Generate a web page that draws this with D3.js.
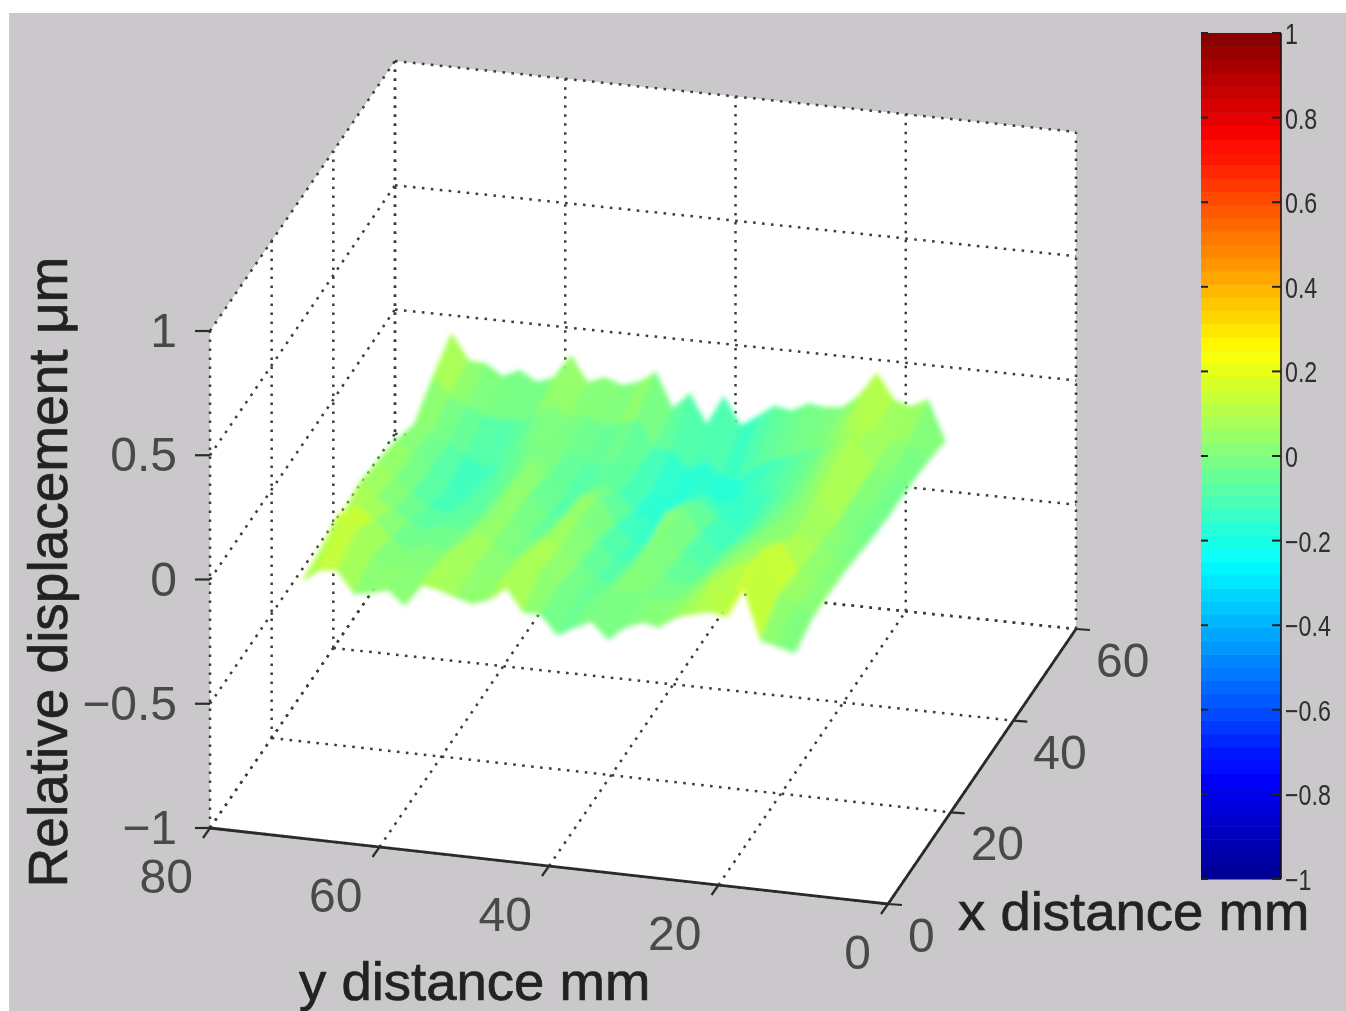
<!DOCTYPE html>
<html>
  <head>
    <title>Relative displacement surface</title>
    <meta charset="utf-8">
    <script src="https://d3js.org/d3.v7.min.js"></script>
    <style>
      html, body { margin: 0; padding: 0; background: #fff; }
      svg { display: block; }
      text { font-family: "Liberation Sans", Arial, sans-serif; }
    </style>
  </head>
<body>
  <script type="text/javascript">
    // tick labels
    var xTicks = [0, 20, 40, 60],
        yTicks = [80, 60, 40, 20, 0],
        zTicks = [-1, -0.5, 0, 0.5, 1],
        colorTicks = [-1, -0.8, -0.6, -0.4, -0.2, 0, 0.2, 0.4, 0.6, 0.8, 1];

    // measured grid, mm
    var xDistance = [0, 6, 12, 18, 24, 30, 36, 42, 48];
    var yDistance = [69, 67, 65, 63, 61, 59, 57, 55, 53, 51, 49, 47, 45, 43, 41,
                     39, 37, 35, 33, 31, 29, 27, 25, 23, 21, 19, 17, 15, 13, 11];

    // relative displacement, um, one list per x distance
    var zAtX0  = [.04, .09, .097, .01, .02, .04, -.015, .075, .064, .04, .023, .047, .103, .01, .01,
                  -.065, -.027, .005, -.06, -.003, .025, .013, .06, .08, .097, .085, .205, .005, -.013, -.03];
    var zAtX6  = [.06, .2, .14, .05, .01, .04, .01, .06, .13, .05, .02, .05, .13, .08, .01,
                  -.03, -.02, 0, .02, 0, 0, .01, .04, .1, .13, .14, .25, .08, .04, .01];
    var zAtX12 = [.065, .13, .08, .01, -.03, 0, -.02, .02, .07, .03, -.01, .01, .08, .05, -.01,
                  -.06, -.07, -.01, .03, -.02, -.05, -.03, .02, .05, .08, .09, .17, .06, .03, .01];
    var zAtX18 = [.097, .05, .01, -.03, -.06, -.03, -.05, -.01, .04, .02, -.04, -.03, .05, .05, -.03,
                  -.1, -.1, -.02, .03, -.04, -.09, -.06, -.01, .02, .04, .03, .09, .04, .01, 0];
    var zAtX24 = [.08, .02, -.03, -.08, -.1, -.07, -.08, -.03, .06, .02, -.07, -.07, .03, .04, -.07,
                  -.13, -.13, 0, .03, -.07, -.13, -.09, -.05, -.01, .02, .02, .12, .02, -.01, -.02];
    var zAtX30 = [.056, .01, -.05, -.12, -.15, -.09, -.06, -.04, .03, -.01, -.09, -.09, -.04, -.06, -.13,
                  -.17, -.16, -.07, -.06, -.11, -.15, -.12, -.07, -.03, .01, .05, .16, .03, -.03, -.03];
    var zAtX36 = [.012, -.02, -.05, -.09, -.13, -.11, -.05, -.01, 0, -.03, -.07, -.07, -.05, -.09, -.15,
                  -.19, -.18, -.14, -.18, -.16, -.13, -.11, -.06, -.03, .03, .07, .13, .03, 0, -.03];
    var zAtX42 = [.093, .02, -.01, -.04, -.05, -.05, -.03, .03, -.01, 0, -.03, -.02, .01, -.1, -.1,
                  -.17, -.13, -.18, -.2, -.13, -.09, -.07, -.04, -.02, .03, .08, .07, .03, .03, -.04];
    var zAtX48 = [.158, .057, .053, .008, .04, 0, .024, .12, .02, .047, .023, .043, .09, -.05, .018,
                  -.1, .02, -.09, -.043, .005, -.007, .029, .02, .028, .085, .18, .08, .06, .095, -.06];
    var zRows = [zAtX0, zAtX6, zAtX12, zAtX18, zAtX24, zAtX30, zAtX36, zAtX42, zAtX48];

    var width = 1346,
        height = 1011;

    var svg = d3.select("body").append("svg")
        .attr("width", width)
        .attr("height", height);

    // jpeg softness of the original
    var defs = svg.append("defs");
    defs.append("filter").attr("id", "soft")
        .attr("x", "-2%").attr("y", "-2%").attr("width", "104%").attr("height", "104%")
      .append("feGaussianBlur").attr("stdDeviation", 0.7);
    defs.append("filter").attr("id", "surfaceBlur")
        .attr("x", "-5%").attr("y", "-5%").attr("width", "110%").attr("height", "110%")
      .append("feGaussianBlur").attr("stdDeviation", 2.4);

    svg.append("rect")
        .attr("x", 9).attr("y", 13)
        .attr("width", width - 9).attr("height", height - 13)
        .attr("fill", "#cbc8cc");

    var chart = svg.append("g").attr("filter", "url(#soft)");

    /*
      Projection: the three data scales give box fractions, the floor
      corners and the box height turn them into pixels
    */
    var u = d3.scaleLinear().domain([80, 0]).range([0, 1]),
        v = d3.scaleLinear().domain([0, 60]).range([0, 1]),
        w = d3.scaleLinear().domain([-1, 1]).range([0, 497]);

    var frontLeft = [210, 828],
        frontRight = [888, 904],
        backLeft = [395, 558],
        backRight = [1076, 629];

    function project(x, y, z) {
      var a = u(y), b = v(x);
      var px = (1 - a) * (1 - b) * frontLeft[0] + a * (1 - b) * frontRight[0] +
               (1 - a) * b * backLeft[0] + a * b * backRight[0];
      var py = (1 - a) * (1 - b) * frontLeft[1] + a * (1 - b) * frontRight[1] +
               (1 - a) * b * backLeft[1] + a * b * backRight[1];
      return [px, py - w(z)];
    }

    // jet colormap
    var jet = d3.scaleLinear()
        .domain([-1, -0.75, -0.25, 0.25, 0.75, 1])
        .range(["#00008f", "#0000ff", "#00ffff", "#ffff00", "#ff0000", "#800000"])
        .clamp(true);

    var line = d3.line();

    /*
      Box walls
    */
    chart.append("path")
        .attr("d", line.curve(d3.curveLinearClosed)([
          project(0, 80, 1), project(60, 80, 1), project(60, 0, 1),
          project(60, 0, -1), project(0, 0, -1), project(0, 80, -1)]))
        .attr("fill", "#fff");

    var gridSegments = [];
    // floor
    yTicks.forEach(function (y) { gridSegments.push([project(0, y, -1), project(60, y, -1)]); });
    xTicks.forEach(function (x) { gridSegments.push([project(x, 80, -1), project(x, 0, -1)]); });
    // back wall
    yTicks.forEach(function (y) { gridSegments.push([project(60, y, -1), project(60, y, 1)]); });
    zTicks.forEach(function (z) { gridSegments.push([project(60, 80, z), project(60, 0, z)]); });
    // left wall
    xTicks.forEach(function (x) { gridSegments.push([project(x, 80, -1), project(x, 80, 1)]); });
    zTicks.forEach(function (z) { gridSegments.push([project(0, 80, z), project(60, 80, z)]); });

    var openLine = d3.line();
    chart.append("g").selectAll("path")
        .data(gridSegments)
      .enter().append("path")
        .attr("d", function (d) { return openLine(d); })
        .attr("fill", "none")
        .attr("stroke", "#3c3c3c")
        .attr("stroke-width", 2.5)
        .attr("stroke-dasharray", "2.6 6.4");

    /*
      Surface, far rows first so near rows cover them
    */
    var cells = [];
    for (var r = xDistance.length - 2; r >= 0; r--) {
      for (var c = 0; c < yDistance.length - 1; c++) {
        cells.push({
          corners: [
            project(xDistance[r], yDistance[c], zRows[r][c]),
            project(xDistance[r], yDistance[c + 1], zRows[r][c + 1]),
            project(xDistance[r + 1], yDistance[c + 1], zRows[r + 1][c + 1]),
            project(xDistance[r + 1], yDistance[c], zRows[r + 1][c])
          ],
          mean: d3.mean([zRows[r][c], zRows[r][c + 1], zRows[r + 1][c + 1], zRows[r + 1][c]])
        });
      }
    }

    var closedLine = d3.line().curve(d3.curveLinearClosed);
    chart.append("g")
        .attr("filter", "url(#surfaceBlur)")
      .selectAll("path")
        .data(cells)
      .enter().append("path")
        .attr("d", function (d) { return closedLine(d.corners); })
        .attr("fill", function (d) { return jet(d.mean); })
        .attr("stroke", function (d) { return jet(d.mean); })
        .attr("stroke-width", 1.5);

    /*
      Solid axes and ticks
    */
    var axisColor = "#2b2b2b";
    var axisLine = d3.line();
    chart.append("path")
        .attr("d", axisLine([project(0, 80, -1), project(0, 0, -1), project(60, 0, -1)]))
        .attr("fill", "none")
        .attr("stroke", axisColor)
        .attr("stroke-width", 2.8);

    var tickGroup = chart.append("g")
        .attr("stroke", axisColor)
        .attr("stroke-width", 2.2);

    yTicks.forEach(function (y) {
      var p = project(0, y, -1);
      tickGroup.append("line")
          .attr("x1", p[0]).attr("y1", p[1])
          .attr("x2", p[0] - 7).attr("y2", p[1] + 10);
    });
    xTicks.forEach(function (x) {
      var p = project(x, 0, -1);
      tickGroup.append("line")
          .attr("x1", p[0]).attr("y1", p[1])
          .attr("x2", p[0] + 14).attr("y2", p[1] + 1);
    });
    zTicks.forEach(function (z) {
      var p = project(0, 80, z);
      tickGroup.append("line")
          .attr("x1", p[0] - 15).attr("y1", p[1])
          .attr("x2", p[0]).attr("y2", p[1]);
    });

    /*
      Tick labels
    */
    function minus(t) { return String(t).replace("-", "\u2212"); }

    var labelColor = "#4a4a4a",
        labelSize = 48;

    zTicks.forEach(function (z) {
      var p = project(0, 80, z);
      chart.append("text")
          .attr("x", p[0] - 33).attr("y", p[1] + 16)
          .attr("text-anchor", "end")
          .attr("font-size", labelSize)
          .attr("fill", labelColor)
          .text(minus(z));
    });
    yTicks.forEach(function (y) {
      var p = project(0, y, -1);
      chart.append("text")
          .attr("x", p[0] - 17).attr("y", p[1] + 65)
          .attr("text-anchor", "end")
          .attr("font-size", labelSize)
          .attr("fill", labelColor)
          .text(y);
    });
    xTicks.forEach(function (x) {
      var p = project(x, 0, -1);
      chart.append("text")
          .attr("x", p[0] + 20).attr("y", p[1] + 48)
          .attr("font-size", labelSize)
          .attr("fill", labelColor)
          .text(x);
    });

    /*
      Axis titles
    */
    function title(sel) {
      return sel.attr("fill", "#222").attr("stroke", "#222").attr("stroke-width", 0.7);
    }
    chart.append("text")
        .attr("x", 958).attr("y", 930)
        .attr("font-size", 54.5)
        .call(title)
        .text("x distance mm");
    chart.append("text")
        .attr("x", 299).attr("y", 1000)
        .attr("font-size", 54.5)
        .call(title)
        .text("y distance mm");
    chart.append("text")
        .attr("transform", "translate(67,572) rotate(-90)")
        .attr("text-anchor", "middle")
        .attr("font-size", 55)
        .call(title)
        .text("Relative displacement \u03bcm");

    /*
      Colorbar
    */
    var barLeft = 1201,
        barRight = 1281;
    var barY = d3.scaleLinear().domain([-1, 1]).range([879, 33]);
    var levels = d3.range(64).map(function (i) { return -1 + (i + 0.5) / 32; });

    chart.append("g").selectAll("rect")
        .data(levels)
      .enter().append("rect")
        .attr("x", barLeft)
        .attr("y", function (d) { return barY(d + 1 / 64); })
        .attr("width", barRight - barLeft)
        .attr("height", function (d) { return barY(d - 1 / 64) - barY(d + 1 / 64) + 0.5; })
        .attr("fill", function (d) { return jet(d); });

    chart.append("line")
        .attr("x1", barRight).attr("x2", barRight)
        .attr("y1", barY(1)).attr("y2", barY(-1))
        .attr("stroke", "#1e1414")
        .attr("stroke-width", 1.6);

    colorTicks.forEach(function (t) {
      [[barLeft, barLeft + 7], [barRight - 9, barRight]].forEach(function (s) {
        chart.append("line")
            .attr("x1", s[0]).attr("x2", s[1])
            .attr("y1", barY(t)).attr("y2", barY(t))
            .attr("stroke", "#222")
            .attr("stroke-width", 2);
      });
      chart.append("text")
          .attr("transform", "translate(1285," + (barY(t) + 11) + ") scale(0.8,1)")
          .attr("font-size", 29)
          .attr("fill", "#2e2e2e")
          .text(minus(t));
    });
  </script>
</body>
</html>
